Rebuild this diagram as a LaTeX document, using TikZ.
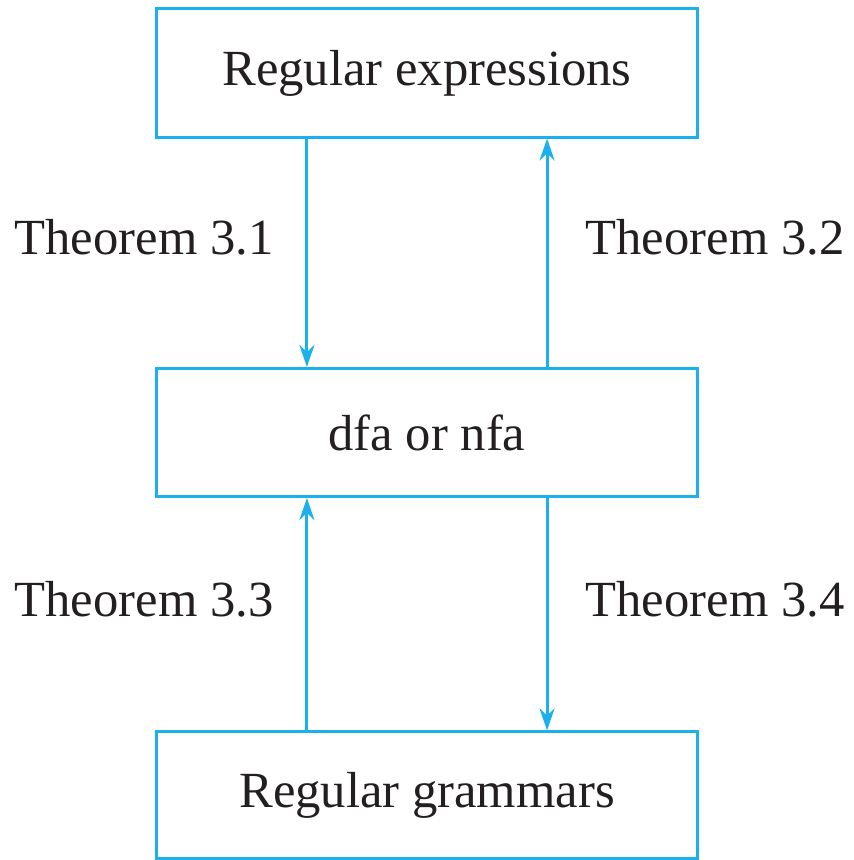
\documentclass[tikz,border=0pt]{standalone}
\usepackage{fontspec}
\setmainfont{Liberation Serif}
\usepackage{tikz}
\usetikzlibrary{arrows.meta,positioning}
\definecolor{linecol}{HTML}{1CB0EC}
\definecolor{textcol}{HTML}{231F20}

\begin{document}
\begin{tikzpicture}[
  x=0.01cm, y=0.01cm,
  box/.style={draw=linecol, line width=0.85pt, minimum width=5.4cm, minimum height=1.28cm,
    font=\fontsize{14.4}{17}\selectfont, text=textcol},
  conn/.style={-{Stealth[length=2.2mm, width=1.5mm]}, draw=linecol, line width=0.85pt},
  lbl/.style={font=\fontsize{14.4}{17}\selectfont, text=textcol, inner sep=0pt, midway, yshift=1.5mm}
]
  \useasboundingbox (0,0) rectangle (854,860);

  % boxes
  \node[box] (regex) at (427,787) {Regular expressions};
  \node[box] (fa) at (427,427.5) {dfa or nfa};
  \node[box, minimum height=1.26cm] (gram) at (427,65) {Regular grammars};

  % upper arrows
  \draw[conn] ([xshift=-1.2cm]regex.south) -- ([xshift=-1.2cm]fa.north)
    node[lbl, left=3.2mm] {Theorem 3.1};
  \draw[conn] ([xshift=1.2cm]fa.north) -- ([xshift=1.2cm]regex.south)
    node[lbl, right=3.7mm] {Theorem 3.2};

  % lower arrows
  \draw[conn] ([xshift=-1.2cm]gram.north) -- ([xshift=-1.2cm]fa.south)
    node[lbl, left=3.2mm] {Theorem 3.3};
  \draw[conn] ([xshift=1.2cm]fa.south) -- ([xshift=1.2cm]gram.north)
    node[lbl, right=3.7mm] {Theorem 3.4};
\end{tikzpicture}
\end{document}
